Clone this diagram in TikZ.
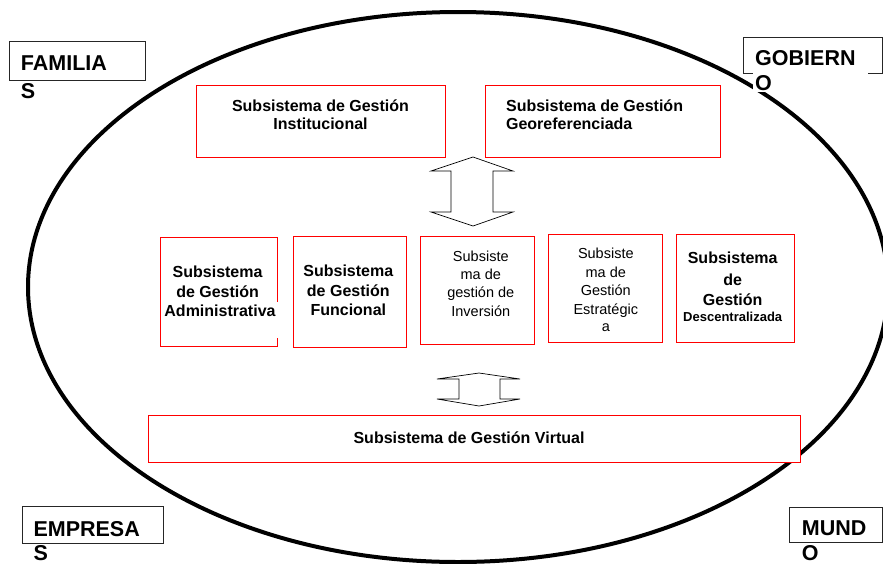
\documentclass[tikz,border=0pt]{standalone}
\usepackage{fontspec}
\setmainfont{Liberation Sans}
\begin{document}
\begin{tikzpicture}[x=1pt,y=-1pt,
  redbox/.style={draw=red, line width=1pt, fill=white},
  blackbox/.style={draw=black!85, line width=0.8pt, fill=white},
  bigtxt/.style={font=\fontsize{21.5}{25}\selectfont\bfseries, anchor=base west, inner sep=0pt},
  btxt/.style={font=\fontsize{16}{19}\selectfont\bfseries, anchor=base, inner sep=0pt},
  stxt/.style={font=\fontsize{13}{16}\selectfont\bfseries, anchor=base, inner sep=0pt},
  rtxt/.style={font=\fontsize{14.5}{18}\selectfont, anchor=base, inner sep=0pt},
  arr/.style={draw=black, line width=0.7pt, fill=white, line join=miter}]
\useasboundingbox (0,0) rectangle (883,563);
\clip (0,0) rectangle (883,563);
\fill[white] (0,0) rectangle (883,563);

% big ellipse
\draw[line width=4pt] (458,287) ellipse [x radius=430pt, y radius=275pt];

% corner label boxes
\draw[blackbox] (9.3,41) rectangle (145.7,80.7);
\draw[blackbox] (22.7,506.7) rectangle (163.3,543.3);
\draw[blackbox] (789.3,507.3) rectangle (882,542.7);
\fill[white] (743.3,37.3) rectangle (882.3,73.3);
\draw[black!85, line width=0.8pt] (753,73.3) -- (743.3,73.3) -- (743.3,37.3) -- (882.3,37.3) -- (882.3,73.3) -- (868,73.3);
\fill[white] (753,73.3) rectangle (868,92);

\node[bigtxt] (famA) at (20.7,70) {FAMILIA};
\node[bigtxt] (famB) at (20.7,98) {S};
\node[bigtxt] (gobA) at (755,65) {GOBIERN};
\node[bigtxt] (gobB) at (755,90) {O};
\node[bigtxt] (empA) at (33.3,536.7) {EMPRESA};
\node[bigtxt] (empB) at (33.3,560) {S};
\node[bigtxt] (munA) at (801.7,535) {MUND};
\node[bigtxt] (munB) at (801.7,560) {O};

% top red boxes
\draw[redbox] (196.5,85) rectangle (445,157.3);
\draw[redbox] (485,85) rectangle (720,157.3);
\node[btxt] (instA) at (320.5,111.7) {Subsistema de Gestión};
\node[btxt] (instB) at (320.5,129.3) {Institucional};
\node[btxt, anchor=base west] (geoA) at (505.9,111.7) {Subsistema de Gestión};
\node[btxt, anchor=base west] (geoB) at (505.9,129.3) {Georeferenciada};

% upper double arrow
\draw[arr] (473,157) -- (513,171) -- (493,171) -- (493,212) -- (513,212) -- (473,226)
  -- (431,212) -- (451,212) -- (451,171) -- (431,171) -- cycle;

% middle row
\fill[white] (160,237) rectangle (277,346);
\draw[red, line width=1pt] (277,301.7) -- (277,237) -- (160,237) -- (160,346) -- (277,346) -- (277,338.3);
\node[btxt] (admA) at (217.6,277.3) {Subsistema};
\node[btxt] (admB) at (217.6,297.3) {de Gestión};
\node[btxt] (admC) at (220,316.7) {Administrativa};

\draw[redbox] (293.3,236.7) rectangle (406.7,347.7);
\node[btxt] (funA) at (348.3,276.7) {Subsistema};
\node[btxt] (funB) at (348.3,296.7) {de Gestión};
\node[btxt] (funC) at (348.3,315.7) {Funcional};

\draw[redbox] (420.7,236.7) rectangle (534.3,344.3);
\node[rtxt] (invA) at (480.8,261.7) {Subsiste};
\node[rtxt] (invB) at (480.8,279.3) {ma de};
\node[rtxt] (invC) at (480.8,297.7) {gestión de};
\node[rtxt] (invD) at (480.8,316.7) {Inversión};

\draw[redbox] (548.3,234.3) rectangle (662.3,342.3);
\node[rtxt] (estA) at (605.8,258.3) {Subsiste};
\node[rtxt] (estB) at (605.8,277.7) {ma de};
\node[rtxt] (estC) at (605.8,295) {Gestión};
\node[rtxt] (estD) at (605.8,314.3) {Estratégic};
\node[rtxt] (estE) at (605.8,331.7) {a};

\draw[redbox] (676,234.3) rectangle (794.3,342.3);
\node[btxt] (desA) at (732.7,263.3) {Subsistema};
\node[btxt] (desB) at (732.7,285) {de};
\node[btxt] (desC) at (732.7,305) {Gestión};
\node[stxt] (desD) at (732.7,321.7) {Descentralizada};

% lower double arrow
\draw[arr] (479,373) -- (520,379) -- (500,379) -- (500,399) -- (520,399) -- (479,406)
  -- (437,399) -- (459,399) -- (459,379) -- (437,379) -- cycle;

% bottom box
\draw[redbox] (148.5,415.7) rectangle (800,462);
\node[btxt] (virt) at (469,443.3) {Subsistema de Gestión Virtual};
\end{tikzpicture}
\end{document}
